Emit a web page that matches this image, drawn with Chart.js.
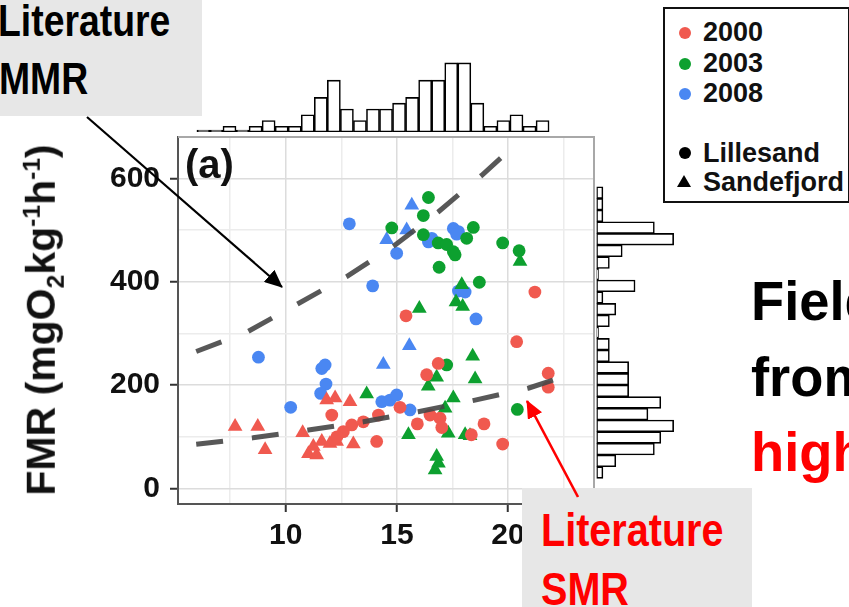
<!DOCTYPE html>
<html>
<head>
<meta charset="utf-8">
<script src="https://cdn.jsdelivr.net/npm/chart.js@4.4.1/dist/chart.umd.min.js"></script>
<style>
  html, body { margin: 0; padding: 0; background: #fff; overflow: hidden; }
  #stage { position: relative; width: 849px; height: 607px; overflow: hidden; }
  #stage canvas { position: absolute; left: 0; top: 0; }
  .box { position: absolute; background: #e7e7e7; }
  /* slide captions use a condensed bold face: squeeze Liberation Sans */
  .slide { position: absolute; line-height: 1; white-space: nowrap; font-weight: bold;
           font-family: 'Liberation Sans', Arial, sans-serif; transform: scaleX(0.83); transform-origin: 0 0; }
  .slide.wide { transform: scaleX(0.97); }
  .ytitle { position: absolute; left: 44px; top: 320px; transform: translate(-50%, -50%) rotate(-90deg);
            font: bold 41px 'Liberation Sans', Arial, sans-serif; white-space: nowrap; line-height: 1; color: #111; }
  .ytitle sub, .ytitle sup { font-size: 60%; }
  .tag { position: absolute; left: 185px; top: 144px; font: bold 40px 'Liberation Sans', Arial, sans-serif; line-height: 1; color: #111; }
  .legend { position: absolute; left: 663px; top: 7px; width: 187px; height: 196px; box-sizing: border-box;
            border: 2px solid #111; background: #fff; }
  .legend .row { position: absolute; left: 38px; font: bold 27px 'Liberation Sans', Arial, sans-serif; line-height: 1; color: #111; }
  .legend .dot { position: absolute; left: 14px; width: 12px; height: 12px; border-radius: 50%; }
  .legend .tri { position: absolute; left: 12px; width: 14px; height: 12px; background: #000;
                 clip-path: polygon(50% 0, 100% 100%, 0 100%); }
</style>
</head>
<body>
<div id="stage">
  <canvas id="mainChart" width="849" height="607"></canvas>
  <canvas id="topHist" width="849" height="607"></canvas>
  <canvas id="rightHist" width="849" height="607"></canvas>

  <div class="ytitle">FMR (mgO<sub>2</sub>kg<sup>-1</sup>h<sup>-1</sup>)</div>
  <div class="tag">(a)</div>

  <div class="legend">
    <span class="dot" style="top:18px;background:#F0594F"></span><div class="row" style="top:10px">2000</div>
    <span class="dot" style="top:49px;background:#0DA02F"></span><div class="row" style="top:41px">2003</div>
    <span class="dot" style="top:79px;background:#4A87F2"></span><div class="row" style="top:71px">2008</div>
    <span class="dot" style="top:138px;background:#000"></span><div class="row" style="top:131px">Lillesand</div>
    <span class="tri" style="top:166px"></span><div class="row" style="top:160px">Sandefjord</div>
  </div>

  <div class="box" style="left:0;top:0;width:202px;height:116px"></div>
  <div class="slide" style="left:-2px;top:-2px;font-size:45px;color:#000">Literature</div>
  <div class="slide" style="left:-1px;top:56px;font-size:45px;color:#000">MMR</div>

  <div class="box" style="left:522px;top:488px;width:230px;height:119px"></div>
  <div class="slide" style="left:541px;top:507px;font-size:46px;color:#ff0000;transform:scaleX(0.86)">Literature</div>
  <div class="slide" style="left:541px;top:566px;font-size:46px;color:#ff0000;transform:scaleX(0.86)">SMR</div>

  <div class="slide wide" style="left:751px;top:273px;font-size:56px;color:#000">Field</div>
  <div class="slide wide" style="left:751px;top:349px;font-size:56px;color:#000">from</div>
  <div class="slide wide" style="left:751px;top:424px;font-size:56px;color:#ff0000">high</div>

  <svg width="849" height="607" style="position:absolute;left:0;top:0">
    <defs>
      <marker id="headBlack" markerUnits="userSpaceOnUse" markerWidth="18" markerHeight="16" refX="17" refY="8" orient="auto">
        <path d="M0,0 L18,8 L0,16 z" fill="#000"/>
      </marker>
      <marker id="headRed" markerUnits="userSpaceOnUse" markerWidth="18" markerHeight="16" refX="17" refY="8" orient="auto">
        <path d="M0,0 L18,8 L0,16 z" fill="#ff0000"/>
      </marker>
    </defs>
    <line x1="87" y1="117" x2="282" y2="287" stroke="#000" stroke-width="2.2" marker-end="url(#headBlack)"/>
    <line x1="578" y1="497" x2="527" y2="401" stroke="#ff0000" stroke-width="2.6" marker-end="url(#headRed)"/>
  </svg>
</div>

<script>
// ---- data ----
const red2000Lillesand = [
  [15.41, 334], [20.39, 284], [21.21, 380], [16.86, 242], [16.34, 220], [12.07, 142], [15.14, 157],
  [16.49, 142], [16.94, 136], [17.02, 118], [15.92, 125], [18.92, 125], [19.76, 86], [14.09, 91],
  [12.97, 123], [12.59, 110], [13.49, 129], [14.17, 142], [18.35, 104], [21.81, 223], [21.81, 196], [12.3, 100]
];
const red2000Sandefjord = [
  [7.72, 120], [8.74, 120], [9.07, 75], [10.76, 108], [11.02, 67], [11.39, 65], [11.24, 81],
  [11.62, 91], [11.99, 87], [12.29, 91], [13.04, 86], [11.84, 171], [12.22, 175], [12.89, 168]
];
const green2003Lillesand = [
  [16.42, 563], [16.19, 528], [14.77, 504], [16.19, 491], [16.86, 475], [17.24, 472], [17.54, 458],
  [17.62, 452], [18.44, 505], [18.14, 484], [16.9, 428], [19.76, 475], [20.5, 460], [18.71, 399],
  [17.24, 239], [20.42, 153]
];
const green2003Sandefjord = [
  [20.54, 439], [17.92, 394], [17.66, 361], [17.96, 352], [16.01, 348], [18.41, 256], [16.79, 215],
  [16.41, 198], [18.52, 212], [13.64, 183], [17.54, 175], [17.17, 155], [15.52, 104], [17.31, 107],
  [18.07, 104], [18.29, 102], [16.79, 62], [16.87, 49], [16.72, 36]
];
const blue2008Lillesand = [
  [12.86, 512], [16.42, 477], [16.57, 484], [17.54, 503], [17.77, 497], [17.69, 492], [14.99, 455],
  [13.91, 392], [17.77, 382], [18.07, 380], [18.56, 328], [8.77, 254], [11.62, 232], [11.77, 239],
  [11.81, 202], [11.57, 184], [10.22, 157], [14.32, 168], [14.69, 171], [14.99, 181], [15.59, 152]
];
const blue2008Sandefjord = [[15.67, 548], [15.44, 500], [14.54, 481], [15.56, 276], [14.39, 240]];

// literature curves (dashed)
const mmrX = [5.97, 8.27, 10.57, 12.74, 14.92, 16.86, 18.82, 19.72];
const mmrY = [265, 303, 358, 410, 471, 535, 606, 641];
const smrX = [5.97, 8.52, 11.02, 13.49, 15.96, 18.52, 20.91, 22.04];
const smrY = [85.5, 98, 113, 129, 148.5, 171, 194, 210];

// marginal histograms
const xBinStart = 6.0, xBinWidth = 0.587;
const xCounts = [0, 0, 1, 0, 1, 2, 1, 1, 3, 6, 9, 4, 2, 4, 4, 5, 6, 9, 9, 12, 12, 5, 1, 2, 3, 1, 2];
const yBinStart = 19.7, yBinWidth = 22.56;
const yCounts = [1, 3, 9, 10, 12, 8, 10, 5, 5, 5, 2, 2, 0, 2, 3, 1, 6, 0, 2, 4, 12, 9, 1, 1, 1];

// axes
const X_RANGE = [5.15, 23.87];
const Y_RANGE = [-30, 680];
const xGridTicks = [7.5, 10, 12.5, 15, 17.5, 20, 22.5];
const xTickLabels = [10, 15, 20];
const yGridTicks = [0, 100, 200, 300, 400, 500, 600];
const yTickLabels = [0, 200, 400, 600];

const RED = '#F0594F', GREEN = '#0DA02F', BLUE = '#4A87F2';
const TICK_FONT = { family: "'Liberation Sans', Arial, sans-serif", size: 30, weight: 'bold' };

const toXY = pts => pts.map(([x, y]) => ({ x, y }));
const pointSet = (pts, color, shape) => ({
  data: toXY(pts),
  backgroundColor: color,
  borderWidth: 0,
  pointStyle: shape,
  pointRadius: shape === 'triangle' ? 8.5 : 6.4,
  order: 2
});
const dashed = (xs, ys) => ({
  type: 'line',
  data: xs.map((x, i) => ({ x, y: ys[i] })),
  showLine: true,
  borderColor: 'rgba(70,70,70,0.9)',
  borderWidth: 5,
  borderDash: [27, 29],
  borderCapStyle: 'butt',
  pointRadius: 0,
  fill: false,
  order: 0
});

const panelFrame = {
  id: 'panelFrame',
  beforeDatasetsDraw(chart) {
    const { ctx, chartArea: a } = chart;
    ctx.save();
    ctx.strokeStyle = '#a8a8a8';
    ctx.lineWidth = 2;
    ctx.beginPath();
    ctx.moveTo(a.left, a.top);
    ctx.lineTo(a.right, a.top);
    ctx.lineTo(a.right, a.bottom);
    ctx.stroke();
    ctx.restore();
  }
};

new Chart(document.getElementById('mainChart'), {
  type: 'scatter',
  data: {
    datasets: [
      dashed(mmrX, mmrY),
      dashed(smrX, smrY),
      pointSet(red2000Lillesand, RED, 'circle'),
      pointSet(red2000Sandefjord, RED, 'triangle'),
      pointSet(green2003Lillesand, GREEN, 'circle'),
      pointSet(green2003Sandefjord, GREEN, 'triangle'),
      pointSet(blue2008Lillesand, BLUE, 'circle'),
      pointSet(blue2008Sandefjord, BLUE, 'triangle')
    ]
  },
  options: {
    responsive: false,
    animation: false,
    layout: { padding: { left: 0, right: 255, top: 137, bottom: 0 } },
    plugins: { legend: { display: false }, tooltip: { enabled: false } },
    scales: {
      x: {
        type: 'linear', min: X_RANGE[0], max: X_RANGE[1],
        afterBuildTicks: s => { s.ticks = xGridTicks.map(v => ({ value: v })); },
        afterFit: s => { s.height = 103; },
        ticks: {
          autoSkip: false, maxRotation: 0, padding: 6, color: '#111', font: TICK_FONT,
          callback: v => xTickLabels.includes(v) ? String(v) : ''
        },
        grid: {
          color: c => xTickLabels.includes(c.tick.value) ? '#dcdcdc' : '#ececec',
          lineWidth: 1.5, tickLength: 8, tickWidth: 2,
          tickColor: c => xTickLabels.includes(c.tick.value) ? '#333' : 'rgba(0,0,0,0)'
        },
        border: { color: '#555', width: 2 }
      },
      y: {
        type: 'linear', min: Y_RANGE[0], max: Y_RANGE[1],
        afterBuildTicks: s => { s.ticks = yGridTicks.map(v => ({ value: v })); },
        afterFit: s => { s.width = 178; },
        ticks: {
          autoSkip: false, padding: 10, color: '#111', font: TICK_FONT,
          callback: v => yTickLabels.includes(v) ? String(v) : ''
        },
        grid: {
          color: c => yTickLabels.includes(c.tick.value) ? '#dcdcdc' : '#ececec',
          lineWidth: 1.5, tickLength: 8, tickWidth: 2,
          tickColor: c => yTickLabels.includes(c.tick.value) ? '#333' : 'rgba(0,0,0,0)'
        },
        border: { color: '#555', width: 2 }
      }
    }
  },
  plugins: [panelFrame]
});

const histStyle = {
  backgroundColor: '#ffffff',
  borderColor: '#000000',
  borderWidth: 1.6,
  borderSkipped: false,
  barPercentage: 1,
  categoryPercentage: 1,
  minBarLength: 2
};

// top marginal: counts along x
new Chart(document.getElementById('topHist'), {
  type: 'bar',
  data: {
    datasets: [{
      ...histStyle,
      data: xCounts.map((n, i) => ({ x: xBinStart + xBinWidth * (i + 0.5), y: n }))
    }]
  },
  options: {
    responsive: false,
    animation: false,
    layout: { padding: { left: 178, right: 255, top: 60, bottom: 475 } },
    plugins: { legend: { display: false }, tooltip: { enabled: false } },
    scales: {
      x: { type: 'linear', min: X_RANGE[0], max: X_RANGE[1], offset: false, display: false },
      y: { min: 0, max: 12.5, display: false }
    }
  }
});

// right marginal: counts along y
new Chart(document.getElementById('rightHist'), {
  type: 'bar',
  data: {
    datasets: [{
      ...histStyle,
      data: yCounts.map((n, i) => ({ y: yBinStart + yBinWidth * (i + 0.5), x: n }))
    }]
  },
  options: {
    indexAxis: 'y',
    responsive: false,
    animation: false,
    layout: { padding: { left: 596.5, right: 162.5, top: 137, bottom: 103 } },
    plugins: { legend: { display: false }, tooltip: { enabled: false } },
    scales: {
      y: { type: 'linear', min: Y_RANGE[0], max: Y_RANGE[1], offset: false, display: false },
      x: { min: 0, max: 14, display: false }
    }
  }
});
</script>
</body>
</html>
